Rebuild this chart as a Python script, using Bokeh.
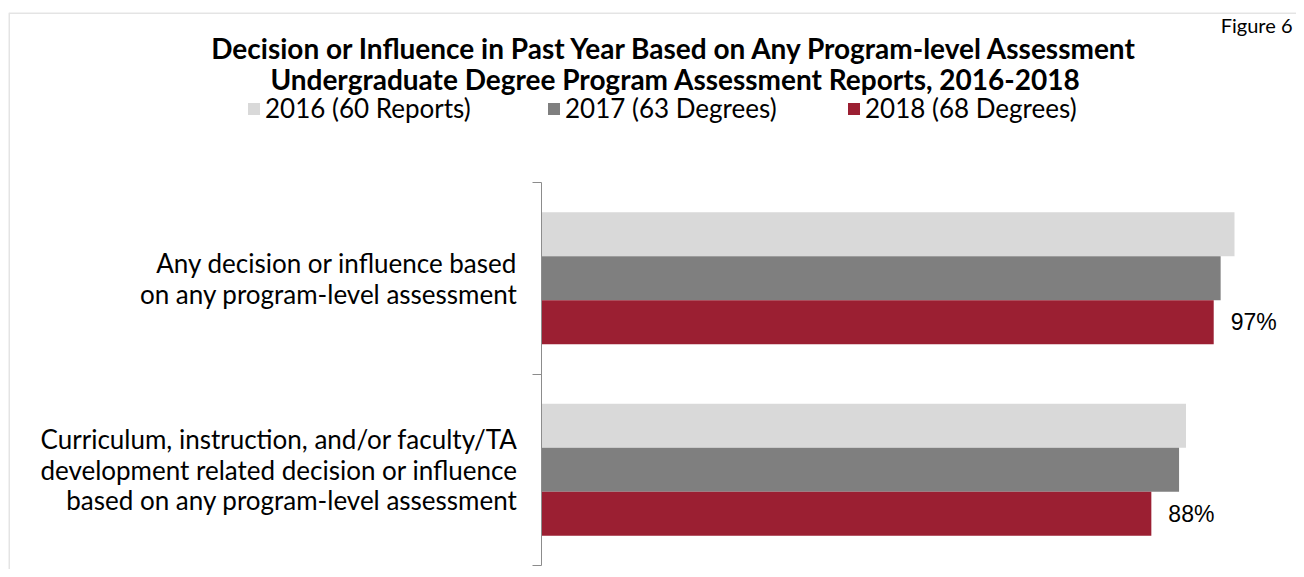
from bokeh.plotting import figure
from bokeh.models import (Range1d, FixedTicker, Label, Legend, LegendItem,
                          BoxAnnotation, ColumnDataSource)
from bokeh.transform import dodge
from bokeh.core.properties import value
from bokeh.embed import file_html
from bokeh.resources import INLINE

# ---- data ----
categories = [
    "Any decision or influence based\non any program-level assessment",
    "Curriculum, instruction, and/or faculty/TA\ndevelopment related decision or influence\nbased on any program-level assessment",
]
series = ["2016 (60 Reports)", "2017 (63 Degrees)", "2018 (68 Degrees)"]
v2016 = [100, 93]
v2017 = [98, 92]
v2018 = [97, 88]
labels2018 = ["97%", "88%"]
colors = ["#d9d9d9", "#7f7f7f", "#9b1f32"]

title1 = "Decision or Influence in Past Year Based on Any Program-level Assessment"
title2 = "Undergraduate Degree Program Assessment Reports, 2016-2018"
corner = "Figure 6"

FONT = "Lato"

# ---- layout (canvas pixels) ----
W, H = 1296, 569
FR_LEFT, FR_TOP = 8, 12      # frame (= outer border)
FR_RIGHT, FR_BOTTOM = W, H
AX_X0, AX_X100 = 541, 1234   # x of 0 % and 100 %
AX_Y0, AX_Y2 = 182, 565      # y of category boundaries 0 and 2

n = len(categories)
pxx = (AX_X100 - AX_X0) / 100.0
pxy = (AX_Y2 - AX_Y0) / float(n)
x_start = (FR_LEFT - AX_X0) / pxx
x_end = (FR_RIGHT - AX_X0) / pxx
y_top = (FR_TOP - AX_Y0) / pxy
y_bottom = n + (FR_BOTTOM - AX_Y2) / pxy

centers = [i + 0.5 for i in range(n)]
src = ColumnDataSource(dict(center=centers, v2016=v2016, v2017=v2017,
                            v2018=v2018, lab=labels2018))

p = figure(width=W, height=H, output_backend="svg", toolbar_location=None,
           x_range=Range1d(x_start, x_end), y_range=Range1d(y_bottom, y_top),
           x_axis_location=None,
           min_border_left=FR_LEFT, min_border_right=W - FR_RIGHT,
           min_border_top=FR_TOP, min_border_bottom=H - FR_BOTTOM)
p.outline_line_color = None
p.xgrid.visible = False
p.ygrid.visible = False
p.background_fill_color = "white"
p.border_fill_color = "white"

bw = 0.23
r1 = p.hbar(y=dodge("center", -bw, range=p.y_range), right="v2016", height=bw,
            left=0, source=src, fill_color=colors[0], line_color=None)
r2 = p.hbar(y=dodge("center", 0, range=p.y_range), right="v2017", height=bw,
            left=0, source=src, fill_color=colors[1], line_color=None)
r3 = p.hbar(y=dodge("center", bw, range=p.y_range), right="v2018", height=bw,
            left=0, source=src, fill_color=colors[2], line_color=None)

p.text(x="v2018", y=dodge("center", bw, range=p.y_range), text="lab", source=src,
       x_offset=17, text_baseline="middle", text_align="left",
       text_font=value("Liberation Sans"), text_font_size="23px", text_color="#000000")

# y axis drawn at x = 0
ax = p.yaxis[0]
ax.fixed_location = 0
ax.bounds = (0, n)
ax.ticker = FixedTicker(ticks=centers, minor_ticks=list(range(n + 1)))
ax.major_label_overrides = {c: t for c, t in zip(centers, categories)}
ax.major_tick_line_color = None
ax.major_tick_out = 0
ax.major_tick_in = 0
ax.minor_tick_out = 9
ax.minor_tick_in = 0
ax.minor_tick_line_color = "#8c8c8c"
ax.axis_line_color = "#8c8c8c"
ax.major_label_text_font = FONT
ax.major_label_text_font_size = "26px"
ax.major_label_text_color = "#000000"
ax.major_label_text_line_height = 0.96
ax.major_label_standoff = 15

# legend
legend = Legend(items=[LegendItem(label=s, renderers=[r]) for s, r in zip(series, [r1, r2, r3])],
                orientation="horizontal", location=(246 - FR_LEFT, FR_BOTTOM - 124),
                glyph_width=15, glyph_height=15, label_standoff=4,
                label_width=270, spacing=11, padding=0, margin=0,
                border_line_color=None, background_fill_alpha=0,
                label_text_font=FONT, label_text_font_size="26px",
                label_text_color="#000000")
p.add_layout(legend, "center")

# titles (screen units: from frame left / frame bottom)
p.add_layout(Label(x=675 - FR_LEFT, y=FR_BOTTOM - 64, x_units="screen", y_units="screen",
                   text=title1, text_align="center", text_font=FONT, text_font_style="bold",
                   text_font_size="28px", text_color="#000000"))
p.add_layout(Label(x=675 - FR_LEFT, y=FR_BOTTOM - 95, x_units="screen", y_units="screen",
                   text=title2, text_align="center", text_font=FONT, text_font_style="bold",
                   text_font_size="28px", text_color="#000000"))
p.add_layout(Label(x=1292 - FR_LEFT, y=FR_BOTTOM - 36, x_units="screen", y_units="screen",
                   text=corner, text_align="right", text_font=FONT,
                   text_font_size="20px", text_color="#000000"))

# outer border (top and left edges of the frame)
p.add_layout(BoxAnnotation(left=x_start + 0.5 / pxx, top=y_top + 0.5 / pxy,
                           right=x_end + 50, bottom=y_bottom + 5,
                           fill_alpha=0, line_color="#a6a6a6", line_width=2))

open("out.html", "w").write(file_html(p, INLINE))
